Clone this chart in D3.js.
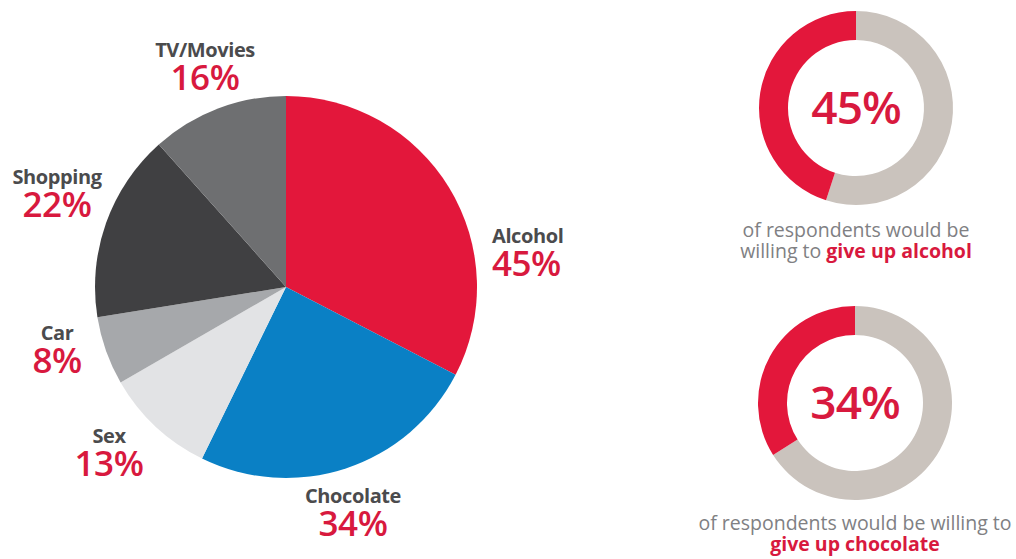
<!DOCTYPE html>
<html>
<head>
<meta charset="utf-8">
<script src="https://cdn.jsdelivr.net/npm/d3@7"></script>
<style>
html,body{margin:0;padding:0;background:#fff;}
svg{display:block;}
text{font-family:"Open Sans",sans-serif;}
</style>
</head>
<body>
<svg id="chart" width="1016" height="559"></svg>
<script>
const categories = ["Alcohol","Chocolate","Sex","Car","Shopping","TV/Movies"];
const values = [45,34,13,8,22,16];
const sliceColors = ["#e3173b","#0a80c5","#e2e3e5","#a6a8ab","#404042","#6e6f71"];
// label anchor positions [x, y of name baseline, anchor]
const labelPos = [[492,243,"start"],[353,503,"middle"],[109,443,"middle"],[57,340,"middle"],[57,184,"middle"],[205,57,"middle"]];

const donutValues = [45,34];
const donutLine1 = ["of respondents would be","of respondents would be willing to"];
const donutLine2Plain = ["willing to ",""];
const donutLine2Bold = ["give up alcohol","give up chocolate"];

const svg = d3.select("#chart");
const red = "#d8193e", labelGray = "#4b4b4d", captionGray = "#808083";

// main pie
const cx = 286, cy = 287, R = 191;
const pie = d3.pie().sort(null).value(d => d);
const arc = d3.arc().innerRadius(0).outerRadius(R);
const g = svg.append("g").attr("transform", `translate(${cx},${cy})`);
g.selectAll("path").data(pie(values)).join("path")
  .attr("d", arc).attr("fill", (d,i) => sliceColors[i]);

const lg = svg.append("g");
categories.forEach((c,i) => {
  const [x,y,a] = labelPos[i];
  const t = lg.append("text").attr("x",x).attr("y",y).attr("text-anchor",a);
  t.append("tspan").attr("x",x)
    .attr("font-size",20).attr("font-weight",700).attr("fill",labelGray).attr("letter-spacing","-0.4").text(c);
  t.append("tspan").attr("x",x).attr("dy",33)
    .attr("font-size",35).attr("font-weight",600).attr("fill",red).attr("letter-spacing","-0.5").text(values[i] + "%");
});

// donuts
const donutCenters = [[856,108],[855,403]];
const dArc = d3.arc().innerRadius(68).outerRadius(97);
donutValues.forEach((v,i) => {
  const [dx,dy] = donutCenters[i];
  const dg = svg.append("g").attr("transform",`translate(${dx},${dy})`);
  dg.selectAll("path").data(pie([100-v, v])).join("path")
    .attr("d", dArc).attr("fill",(d,j) => j===0 ? "#cac3bd" : "#e3173b");
  dg.append("text").attr("x",0).attr("y",16).attr("text-anchor","middle")
    .attr("font-size",46).attr("font-weight",600).attr("fill",red).attr("letter-spacing","-1").text(v + "%");
});

// captions
const capY = [237,530];
donutValues.forEach((v,i) => {
  const x = donutCenters[i][0];
  const t = svg.append("text").attr("x",x).attr("y",capY[i]).attr("text-anchor","middle")
    .attr("font-size",19.5).attr("fill",captionGray);
  t.append("tspan").attr("x",x).text(donutLine1[i]);
  const l2 = t.append("tspan").attr("x",x).attr("dy",21);
  if (donutLine2Plain[i]) l2.append("tspan").text(donutLine2Plain[i]);
  l2.append("tspan").attr("font-weight",700).attr("fill",red).text(donutLine2Bold[i]);
});
</script>
</body>
</html>
